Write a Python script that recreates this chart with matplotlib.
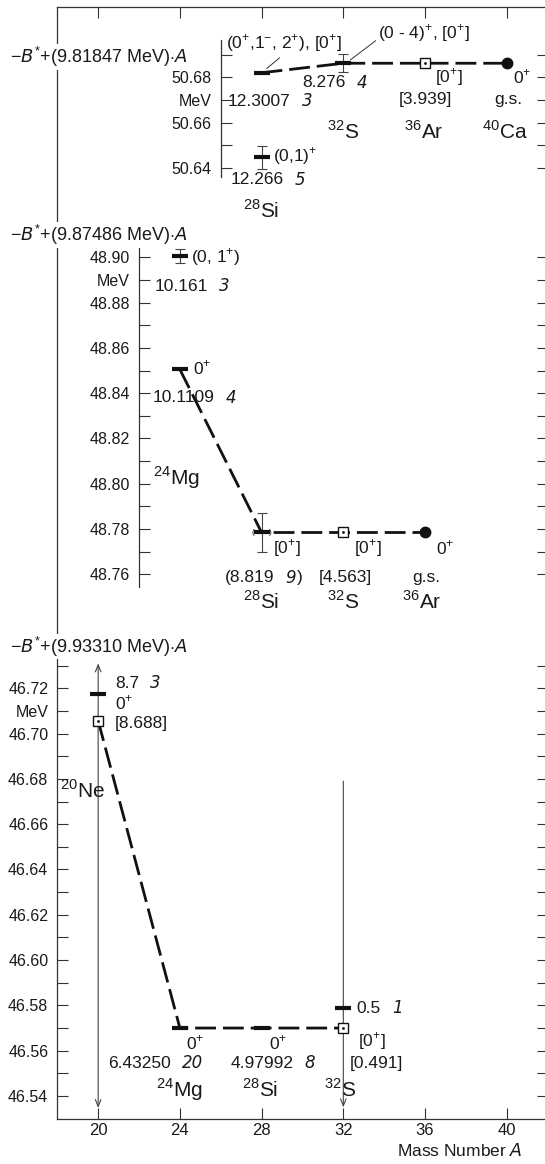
import matplotlib.pyplot as plt

plt.rcParams['font.family'] = ['Liberation Sans', 'DejaVu Sans']
plt.rcParams['mathtext.fontset'] = 'custom'
plt.rcParams['mathtext.rm'] = 'Liberation Sans'
plt.rcParams['mathtext.it'] = 'DejaVu Sans:italic'
plt.rcParams['mathtext.bf'] = 'Liberation Sans:bold'

# ---- values (MeV) ----
mass_ticks = [20, 24, 28, 32, 36, 40]
header_slopes = ['9.81847', '9.87486', '9.93310']

# top band: -B* + (9.81847 MeV) A
top_meas_A = [28, 28, 32]
top_meas_E = [50.6447, 50.6820, 50.6862]
top_meas_err = [0.0050, 0.0, 0.0040]
top_calc_A = [36]
top_calc_E = [50.6862]
top_gs_A = [40]
top_gs_E = [50.6862]
top_chain_A = [28, 32, 36, 40]
top_chain_E = [50.6820, 50.6862, 50.6862, 50.6862]
top_ticks = [50.64, 50.65, 50.66, 50.67, 50.68, 50.69]
top_ticklabels = ['50.64', '', '50.66', 'MeV', '50.68', '']

# middle band: -B* + (9.87486 MeV) A
mid_meas_A = [24, 24, 28]
mid_meas_E = [48.9005, 48.8505, 48.7785]
mid_meas_err = [0.0030, 0.0, 0.0088]
mid_calc_A = [32]
mid_calc_E = [48.7785]
mid_gs_A = [36]
mid_gs_E = [48.7785]
mid_chain_A = [24, 28, 32, 36]
mid_chain_E = [48.8505, 48.7785, 48.7785, 48.7785]
mid_ticks = [48.76, 48.77, 48.78, 48.79, 48.80, 48.81, 48.82, 48.83,
             48.84, 48.85, 48.86, 48.87, 48.88, 48.89, 48.90]
mid_ticklabels = ['48.76', '', '48.78', '', '48.80', '', '48.82', '',
                  '48.84', '', '48.86', '', '48.88', 'MeV', '48.90']

# bottom band: -B* + (9.93310 MeV) A
bot_meas_A = [20, 24, 28, 32]
bot_meas_E = [46.7175, 46.5700, 46.5700, 46.5787]
bot_calc_A = [20, 32]
bot_calc_E = [46.7057, 46.5700]
bot_chain_A = [20, 24, 28, 32]
bot_chain_E = [46.7057, 46.5700, 46.5700, 46.5700]
bot_range_A = [20, 32]
bot_range_lo = [46.5347, 46.5350]
bot_range_hi = [46.7310, 46.6790]
bot_range_style = ['<->', '->']
bot_ticks = [46.54, 46.55, 46.56, 46.57, 46.58, 46.59, 46.60, 46.61, 46.62, 46.63,
             46.64, 46.65, 46.66, 46.67, 46.68, 46.69, 46.70, 46.71, 46.72, 46.73]
bot_ticklabels = ['46.54', '', '46.56', '', '46.58', '', '46.60', '', '46.62', '',
                  '46.64', '', '46.66', '', '46.68', '', '46.70', 'MeV', '46.72', '']

INK = '#111111'
AXC = '#333333'
TXT = '#1a1a1a'
W, H = 545, 1164
K = 2265.0            # pixels per MeV, same in all three bands
X0, X1 = 57.3, 547.6  # frame left / right in pixels
FS = 12.5             # level labels

fig = plt.figure(figsize=(W / 100, H / 100), dpi=100)

# outer frame with the mass-number axis
frame = fig.add_axes([X0 / W, 1 - 1119 / H, (X1 - X0) / W, (1119 - 7.3) / H])
frame.set_xlim(18, 42)
frame.set_ylim(0, 1)
frame.set_xticks(mass_ticks)
frame.set_yticks([])
frame.tick_params(axis='x', direction='in', top=True, bottom=True, length=8,
                  width=0.8, color=AXC, labelsize=12, labelcolor=TXT, pad=3)
frame.spines['right'].set_visible(False)
for s in ['left', 'top', 'bottom']:
    frame.spines[s].set_color(AXC)
    frame.spines[s].set_linewidth(0.9)
fig.text(523 / W, 1 - 1151 / H, 'Mass Number $A$', ha='right', va='center',
         fontsize=12.5, color=TXT)


def make_panel(ytop, ybot, yref, vref, ticks, labels):
    ax = fig.add_axes([X0 / W, 1 - ybot / H, (X1 - X0) / W, (ybot - ytop) / H])
    ax.set_xlim(18, 42)
    ax.set_ylim(vref - (ybot - yref) / K, vref + (yref - ytop) / K)
    ax.patch.set_alpha(0)
    for s in ['top', 'bottom', 'right']:
        ax.spines[s].set_visible(False)
    ax.spines['left'].set_color(AXC)
    ax.spines['left'].set_linewidth(0.9)
    ax.set_xticks([])
    ax.set_yticks(ticks)
    ax.set_yticklabels(labels)
    ax.tick_params(axis='y', direction='in', left=True, right=True, length=8,
                   width=0.8, color=AXC, labelsize=11.5, labelcolor=TXT, pad=6.5)
    return ax


def draw_band(ax, mA, mE, merr, cA, cE, gA, gE, chA, chE):
    ax.plot(chA, chE, color=INK, lw=2.0, dashes=(7.5, 2.5), zorder=2)
    ax.errorbar(mA, mE, yerr=merr, fmt='none', ecolor='#444', elinewidth=0.8,
                capsize=3.5, capthick=0.8, zorder=3)
    ax.plot(mA, mE, ls='none', marker='_', ms=11, mew=3, color=INK, zorder=4)
    ax.plot(cA, cE, ls='none', marker='s', ms=6.5, mfc='white', mec=INK, mew=1.0, zorder=5)
    ax.plot(cA, cE, ls='none', marker='.', ms=2, color=INK, zorder=6)
    if gA:
        ax.plot(gA, gE, ls='none', marker='o', ms=7.5, color=INK, zorder=5)


def label(ax, x, y, s, ha='left'):
    ax.text(x, y, s, ha=ha, va='center', fontsize=FS, color=TXT)


def value(ax, x, y, num, unc, tail=''):
    # energy value followed by its italic uncertainty
    t = ax.text(x, y, num, ha='left', va='center', fontsize=FS, color=TXT)
    u = ax.annotate(unc, xy=(1, 0.5), xycoords=t, xytext=(8, 0),
                    textcoords='offset points', ha='left', va='center',
                    fontsize=FS - 0.5, color=TXT, family='DejaVu Sans', style='italic')
    if tail:
        ax.annotate(tail, xy=(1, 0.5), xycoords=u, xytext=(0.5, 0),
                    textcoords='offset points', ha='left', va='center',
                    fontsize=FS, color=TXT)


def nucleus(ax, x, y, mass, sym):
    ax.text(x, y, '$^{%d}$%s' % (mass, sym), ha='center', va='center',
            fontsize=15, color=TXT)


def header(ypix, slope):
    fig.text(10 / W, 1 - ypix / H, r'$-B^{*}$+(%s MeV)$\cdot A$' % slope,
             ha='left', va='center', fontsize=13, color=TXT,
             bbox=dict(facecolor='white', edgecolor='none', pad=0.5))


# ---------------- top band ----------------
ax1 = make_panel(7.3, 236, 77.3, 50.68, top_ticks, top_ticklabels)
ax1.spines['left'].set_position(('data', 26))
ax1.spines['left'].set_bounds(50.6358, 50.6963)
draw_band(ax1, top_meas_A, top_meas_E, top_meas_err, top_calc_A, top_calc_E,
          top_gs_A, top_gs_E, top_chain_A, top_chain_E)
ax1.annotate('(0$^{+}$,1$^{-}$, 2$^{+}$), [0$^{+}$]', xy=(28.2, 50.6835),
             xytext=(26.26, 50.6950), ha='left', va='center', fontsize=FS, color=TXT,
             arrowprops=dict(arrowstyle='-', color=AXC, lw=0.7, relpos=(0.5, 0.0),
                             shrinkA=1, shrinkB=1))
ax1.annotate('(0 - 4)$^{+}$, [0$^{+}$]', xy=(32.35, 50.6877),
             xytext=(33.72, 50.6995), ha='left', va='center', fontsize=FS, color=TXT,
             arrowprops=dict(arrowstyle='-', color=AXC, lw=0.7, relpos=(0.0, 0.25),
                             shrinkA=0, shrinkB=0))
value(ax1, 26.35, 50.6695, '12.3007', '3')
value(ax1, 30.0, 50.6775, '8.276', '4')
label(ax1, 28.57, 50.6450, '(0,1)$^{+}$')
value(ax1, 26.46, 50.6347, '12.266', '5')
label(ax1, 37.19, 50.6801, '[0$^{+}$]', ha='center')
label(ax1, 40.74, 50.6801, '0$^{+}$', ha='center')
label(ax1, 36.04, 50.6704, '[3.939]', ha='center')
label(ax1, 40.07, 50.6704, 'g.s.', ha='center')
nucleus(ax1, 28.0, 50.6214, 28, 'Si')
nucleus(ax1, 31.99, 50.6560, 32, 'S')
nucleus(ax1, 35.94, 50.6560, 36, 'Ar')
nucleus(ax1, 39.90, 50.6560, 40, 'Ca')

# ---------------- middle band ----------------
ax2 = make_panel(236, 647, 257.3, 48.90, mid_ticks, mid_ticklabels)
ax2.spines['left'].set_position(('data', 22))
ax2.spines['left'].set_bounds(48.7545, 48.9045)
draw_band(ax2, mid_meas_A, mid_meas_E, mid_meas_err, mid_calc_A, mid_calc_E,
          mid_gs_A, mid_gs_E, mid_chain_A, mid_chain_E)
ax2.text(27.55, 48.7785, '(', ha='center', va='center', fontsize=6, color=INK)
ax2.text(28.43, 48.7785, ')', ha='center', va='center', fontsize=6, color=INK)
label(ax2, 24.55, 48.9000, '(0, 1$^{+}$)')
value(ax2, 22.78, 48.8873, '10.161', '3')
label(ax2, 24.65, 48.8510, '0$^{+}$')
value(ax2, 22.69, 48.8379, '10.1109', '4')
nucleus(ax2, 23.85, 48.8026, 24, 'Mg')
label(ax2, 29.23, 48.7717, '[0$^{+}$]', ha='center')
label(ax2, 33.22, 48.7717, '[0$^{+}$]', ha='center')
label(ax2, 37.0, 48.7717, '0$^{+}$', ha='center')
value(ax2, 26.21, 48.7585, '(8.819', '9', ')')
label(ax2, 32.12, 48.7585, '[4.563]', ha='center')
label(ax2, 36.06, 48.7585, 'g.s.', ha='center')
nucleus(ax2, 28.0, 48.7480, 28, 'Si')
nucleus(ax2, 32.0, 48.7480, 32, 'S')
nucleus(ax2, 35.84, 48.7480, 36, 'Ar')

# ---------------- bottom band ----------------
ax3 = make_panel(647, 1119, 688.3, 46.72, bot_ticks, bot_ticklabels)
ax3.spines['left'].set_visible(False)
for A, lo, hi, st in zip(bot_range_A, bot_range_lo, bot_range_hi, bot_range_style):
    ax3.annotate('', xy=(A, lo), xytext=(A, hi),
                 arrowprops=dict(arrowstyle=st + ',head_length=0.5,head_width=0.2',
                                 color='#444', lw=0.8, shrinkA=0, shrinkB=0))
draw_band(ax3, bot_meas_A, bot_meas_E, [0.0] * len(bot_meas_A), bot_calc_A, bot_calc_E,
          [], [], bot_chain_A, bot_chain_E)
value(ax3, 20.83, 46.7222, '8.7', '3')
label(ax3, 20.83, 46.7135, '0$^{+}$')
label(ax3, 20.83, 46.7045, '[8.688]')
nucleus(ax3, 19.25, 46.6750, 20, 'Ne')
value(ax3, 32.66, 46.5787, '0.5', '1')
label(ax3, 24.75, 46.5633, '0$^{+}$', ha='center')
label(ax3, 28.82, 46.5633, '0$^{+}$', ha='center')
label(ax3, 33.41, 46.5640, '[0$^{+}$]', ha='center')
value(ax3, 20.48, 46.5544, '6.43250', '20')
value(ax3, 26.46, 46.5544, '4.97992', '8')
label(ax3, 33.6, 46.5544, '[0.491]', ha='center')
nucleus(ax3, 23.96, 46.5427, 24, 'Mg')
nucleus(ax3, 27.93, 46.5427, 28, 'Si')
nucleus(ax3, 31.85, 46.5427, 32, 'S')

header(57, header_slopes[0])
header(235, header_slopes[1])
header(646.7, header_slopes[2])

fig.savefig('out.png', dpi=100)
